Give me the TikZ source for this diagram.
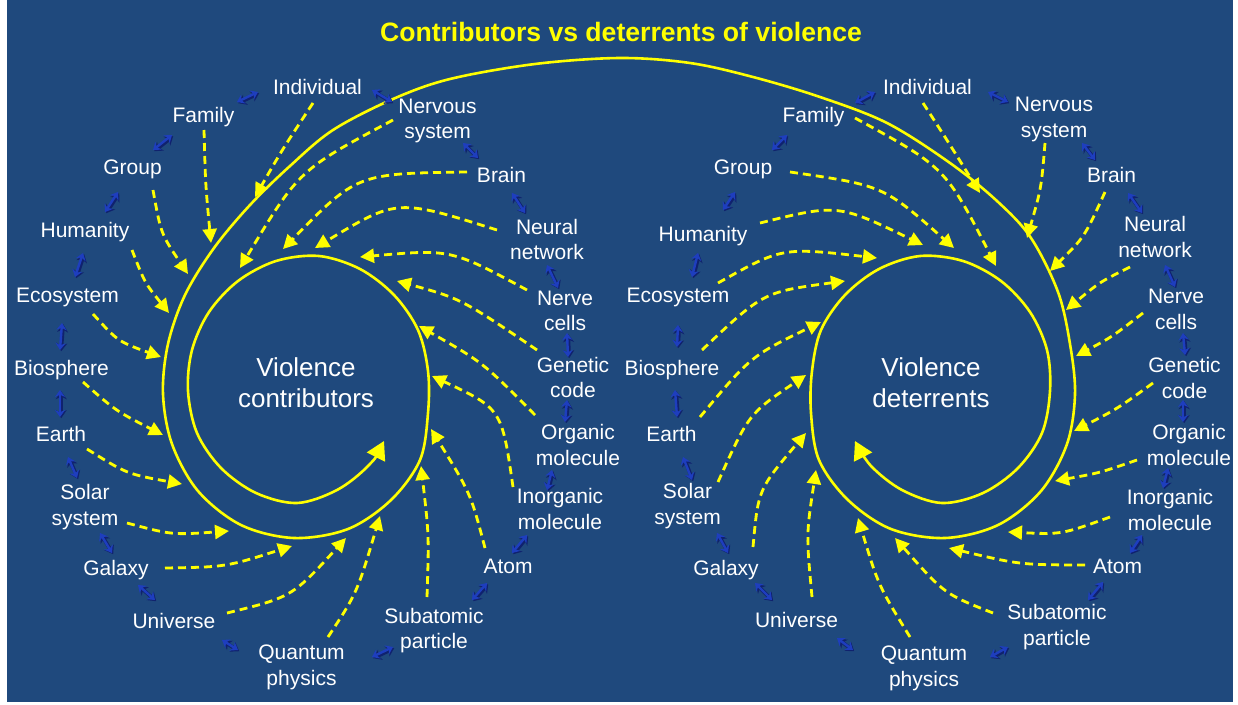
\documentclass[tikz,border=0pt]{standalone}
\usepackage{fontspec}
\setmainfont{Liberation Sans}
\usetikzlibrary{arrows.meta,calc}
\definecolor{bg}{RGB}{31,73,125}
\definecolor{ylw}{RGB}{255,255,0}
\definecolor{blu}{RGB}{30,62,190}
\definecolor{bludk}{RGB}{16,34,110}
\newcommand{\twoway}[2]{\draw[dblsh] #1 -- #2; \draw[dbl] #1 -- #2;}
\begin{document}
\begin{tikzpicture}[x=1pt,y=-1pt,
 lab1/.style={text=white,font=\fontsize{21}{25.5}\selectfont,inner sep=0pt,text height=15.5pt,text depth=4.5pt},
 lab2/.style={text=white,font=\fontsize{21}{25.5}\selectfont,inner sep=0pt,align=center},
 big/.style={text=white,font=\fontsize{26}{31}\selectfont,inner sep=0pt,align=center},
 dar/.style={draw=ylw,line width=2.8pt,dash pattern=on 8pt off 5pt,-{Triangle[length=14pt,width=14pt]}},
 spir/.style={draw=ylw,line width=2.6pt,{Triangle[length=18pt,width=20pt]}-{Triangle[length=18pt,width=20pt]}},
 dbl/.style={draw=blu,fill=blu,line width=2.4pt,{Stealth[length=7pt,width=10pt]}-{Stealth[length=7pt,width=10pt]}},
 dblsh/.style={draw=bludk,fill=bludk,line width=3.6pt,shift={(1.2,1.2)},{Stealth[length=8pt,width=11pt]}-{Stealth[length=8pt,width=11pt]}}]
\useasboundingbox (0,0) rectangle (1238,704);
\fill[bg] (7,0) rectangle (1233,702);

\node[font=\bfseries\fontsize{26.6}{30}\selectfont,text=ylw,inner sep=0pt] (title) at (621,32) {Contributors vs deterrents of violence};

% spiral
\draw[spir] plot[smooth,tension=0.55] coordinates {
(384,441) (368,466) (337,490) (297,503) (256,493) (221,468) (197,433) (188,391) (192,350) (209,312) (238,281) (276,261) (319,256) (360,269) (394,295) (418,330) (428,371) (428,413) (420,460) (391,500) (348,529) (294,538) (241,525) (198,491) (172,444) (163,394) (168,344) (185,295) (214,248) (250,205) (290,166) (333,130) (393,99) (450,79) (535,64) (620,58)
(690,63) (753,77) (820,97) (887,123) (950,163) (997,201) (1031,238) (1058,292) (1070,344) (1075,394) (1067,444) (1041,491) (998,525) (945,538) (891,529) (848,500) (819,460) (811,413) (812,371) (821,330) (845,295) (879,269) (920,256) (963,261) (1001,281) (1030,312) (1047,350) (1050,391) (1042,433) (1018,468) (983,493) (942,503) (902,490) (871,466) (855,441)};

% left labels
\node[lab1] (indL) at (317.5,89) {Individual};
\node[lab1] (famL) at (203.5,117) {Family};
\node[lab1] (grpL) at (132.5,169) {Group};
\node[lab1] (humL) at (85,232) {Humanity};
\node[lab1] (ecoL) at (67.5,297) {Ecosystem};
\node[lab1] (bioL) at (61.5,370) {Biosphere};
\node[lab1] (earL) at (61,436) {Earth};
\node[lab2] (solL) at (85,507) {Solar\\system};
\node[lab1] (galL) at (116,570) {Galaxy};
\node[lab1] (uniL) at (174,623) {Universe};
\node[lab2] (quaL) at (301.5,667.5) {Quantum\\physics};
\node[lab2] (subL) at (434,630.5) {Subatomic\\particle};
\node[lab1] (atoL) at (508,568) {Atom};
\node[lab2] (inoL) at (560,509) {Inorganic\\molecule};
\node[lab2] (orgL) at (578,445) {Organic\\molecule};
\node[lab2] (genL) at (573,377.5) {Genetic\\code};
\node[lab2] (nerL) at (565,311) {Nerve\\cells};
\node[lab2] (neuL) at (547,239.5) {Neural\\network};
\node[lab1] (braL) at (501.5,177) {Brain};
\node[lab2] (nvsL) at (437.5,121) {Nervous\\system};
\node[big] (vioL) at (306,383) {Violence\\contributors};

% right labels
\node[lab1] (indR) at (927.5,89) {Individual};
\node[lab2] (nvsR) at (1054,119.5) {Nervous\\system};
\node[lab1] (braR) at (1111.5,177) {Brain};
\node[lab2] (neuR) at (1155,237) {Neural\\network};
\node[lab2] (nerR) at (1176,309.5) {Nerve\\cells};
\node[lab2] (genR) at (1184.5,378) {Genetic\\code};
\node[lab2] (orgR) at (1189,445) {Organic\\molecule};
\node[lab2] (inoR) at (1170,510) {Inorganic\\molecule};
\node[lab1] (atoR) at (1117.5,568) {Atom};
\node[lab2] (subR) at (1057,627) {Subatomic\\particle};
\node[lab2] (quaR) at (924,668.5) {Quantum\\physics};
\node[lab1] (uniR) at (796.5,622) {Universe};
\node[lab1] (galR) at (726,570) {Galaxy};
\node[lab2] (solR) at (687.5,506) {Solar\\system};
\node[lab1] (earR) at (671.5,436) {Earth};
\node[lab1] (bioR) at (672,370) {Biosphere};
\node[lab1] (ecoR) at (678,297) {Ecosystem};
\node[lab1] (humR) at (703,236) {Humanity};
\node[lab1] (grpR) at (743,169) {Group};
\node[lab1] (famR) at (813.5,117) {Family};
\node[big] (vioR) at (931,383) {Violence\\deterrents};

% left dashed arrows
\draw[dar] ($(indL)+(-4.5,14)$) .. controls (282,150) .. (255,197);
\draw[dar] ($(famL)+(0.5,13)$) .. controls (205.5,185) .. (211,243);
\draw[dar] ($(grpL)+(20.5,21)$) .. controls (161,234) .. (188,274);
\draw[dar] ($(humL)+(47,18)$) .. controls (144.7,282.7) .. (169,313);
\draw[dar] ($(ecoL)+(25.5,17)$) .. controls (118,341.5) .. (161,357);
\draw[dar] ($(bioL)+(21.5,12)$) .. controls (116,411) .. (163,435);
\draw[dar] ($(earL)+(26,13)$) .. controls (127,474) .. (182,484);
\draw[dar] ($(solL)+(42,16)$) .. controls (172,535) .. (229,531);
\draw[dar] ($(galL)+(49,-2)$) .. controls (226,567) .. (292,546);
\draw[dar] ($(uniL)+(53,-10)$) .. controls (292,597) .. (346,538);
\draw[dar] ($(quaL)+(26.5,-30.5)$) .. controls (357,593) .. (380,516);
\draw[dar] ($(subL)+(-7,-33.5)$) .. controls (429,535) .. (421,466);
\draw[dar] ($(atoL)+(-23,-20)$) .. controls (470.7,493.5) .. (431,429);
\draw[dar] ($(inoL)+(-47,-22)$) .. controls (501.7,408.7) .. (432,376);
\draw[dar] ($(orgL)+(-43,-30)$) .. controls (483,362.5) .. (419,326);
\draw[dar] ($(genL)+(-36,-27.5)$) .. controls (461,298.7) .. (397,281);
\draw[dar] ($(nerL)+(-38,-21)$) .. controls (451,249) .. (360,257);
\draw[dar] ($(neuL)+(-50,-9.5)$) .. controls (397,198.5) .. (315,248);
\draw[dar] ($(braL)+(-34.5,-5)$) .. controls (357,173.5) .. (283,249);
\draw[dar] ($(nvsL)+(-44.5,-1)$) .. controls (299,170) .. (240,268);

% right dashed arrows
\draw[dar] ($(indR)+(-4.5,14)$) .. controls (947.3,140.5) .. (980,193);
\draw[dar] ($(famR)+(41.5,1)$) .. controls (945.3,167.3) .. (996,266);
\draw[dar] ($(grpR)+(47,3)$) .. controls (883.3,185.5) .. (954,248);
\draw[dar] ($(humR)+(57,-13)$) .. controls (837.8,203.8) .. (923,245);
\draw[dar] ($(ecoR)+(40,-14)$) .. controls (782,247.2) .. (877,258);
\draw[dar] ($(bioR)+(30,-20)$) .. controls (763.3,292) .. (845,281);
\draw[dar] ($(earR)+(28.5,-19)$) .. controls (751,356) .. (821,322);
\draw[dar] ($(solR)+(30.5,-24)$) .. controls (748.8,413.7) .. (806,375);
\draw[dar] ($(galR)+(27,-23)$) .. controls (758.2,489.3) .. (806,433);
\draw[dar] ($(uniR)+(15.5,-25)$) .. controls (806.2,534.3) .. (816,470);
\draw[dar] ($(quaR)+(-14,-31.5)$) .. controls (878.3,585.5) .. (858,518);
\draw[dar] ($(subR)+(-64,-14)$) .. controls (944.5,594) .. (895,538);
\draw[dar] ($(atoR)+(-32.5,-3)$) .. controls (1020,564.8) .. (949,548);
\draw[dar] ($(inoR)+(-60,7)$) .. controls (1061.8,534.5) .. (1008,532);
\draw[dar] ($(orgR)+(-52,15)$) .. controls (1100.2,472.7) .. (1055,481);
\draw[dar] ($(genR)+(-31.5,5)$) .. controls (1117.2,408.8) .. (1074,431);
\draw[dar] ($(nerR)+(-33,3.5)$) .. controls (1111.8,337) .. (1076,356);
\draw[dar] ($(neuR)+(-25,30)$) .. controls (1099.8,282) .. (1066,310);
\draw[dar] ($(braR)+(-6.5,15)$) .. controls (1084.5,237) .. (1050,271);
\draw[dar] ($(nvsR)+(-9,23.5)$) .. controls (1041.3,188) .. (1027,238);

% small blue double arrows, left
\twoway{(237,102)}{(258,92)}
\twoway{(153,150)}{(172,135)}
\twoway{(105,212)}{(118,192)}
\twoway{(75,277)}{(83,253)}
\twoway{(60,350)}{(62,323)}
\twoway{(60,417)}{(60,390)}
\twoway{(77,478)}{(68,457)}
\twoway{(112,553)}{(100,533)}
\twoway{(155,600)}{(138,585)}
\twoway{(238,650)}{(222,640)}
\twoway{(393,647)}{(372,657)}
\twoway{(487,583)}{(472,600)}
\twoway{(527,535)}{(512,553)}
\twoway{(552,470)}{(547,490)}
\twoway{(567,400)}{(565,422)}
\twoway{(567,333)}{(568,357)}
\twoway{(547,265)}{(558,288)}
\twoway{(512,193)}{(525,213)}
\twoway{(463,143)}{(478,158)}
\twoway{(372,90)}{(392,102)}
% small blue double arrows, right
\twoway{(988,92)}{(1008,102)}
\twoway{(1082,143)}{(1095,160)}
\twoway{(1128,193)}{(1142,213)}
\twoway{(1165,265)}{(1175,287)}
\twoway{(1183,333)}{(1185,355)}
\twoway{(1183,400)}{(1183,422)}
\twoway{(1168,468)}{(1163,488)}
\twoway{(1142,535)}{(1130,553)}
\twoway{(1103,582)}{(1088,600)}
\twoway{(1008,647)}{(990,657)}
\twoway{(853,650)}{(837,638)}
\twoway{(772,600)}{(755,583)}
\twoway{(728,553)}{(717,533)}
\twoway{(692,480)}{(683,457)}
\twoway{(677,417)}{(675,390)}
\twoway{(677,347)}{(678,325)}
\twoway{(692,277)}{(698,253)}
\twoway{(723,210)}{(735,192)}
\twoway{(772,150)}{(787,135)}
\twoway{(855,103)}{(875,92)}
\end{tikzpicture}
\end{document}
